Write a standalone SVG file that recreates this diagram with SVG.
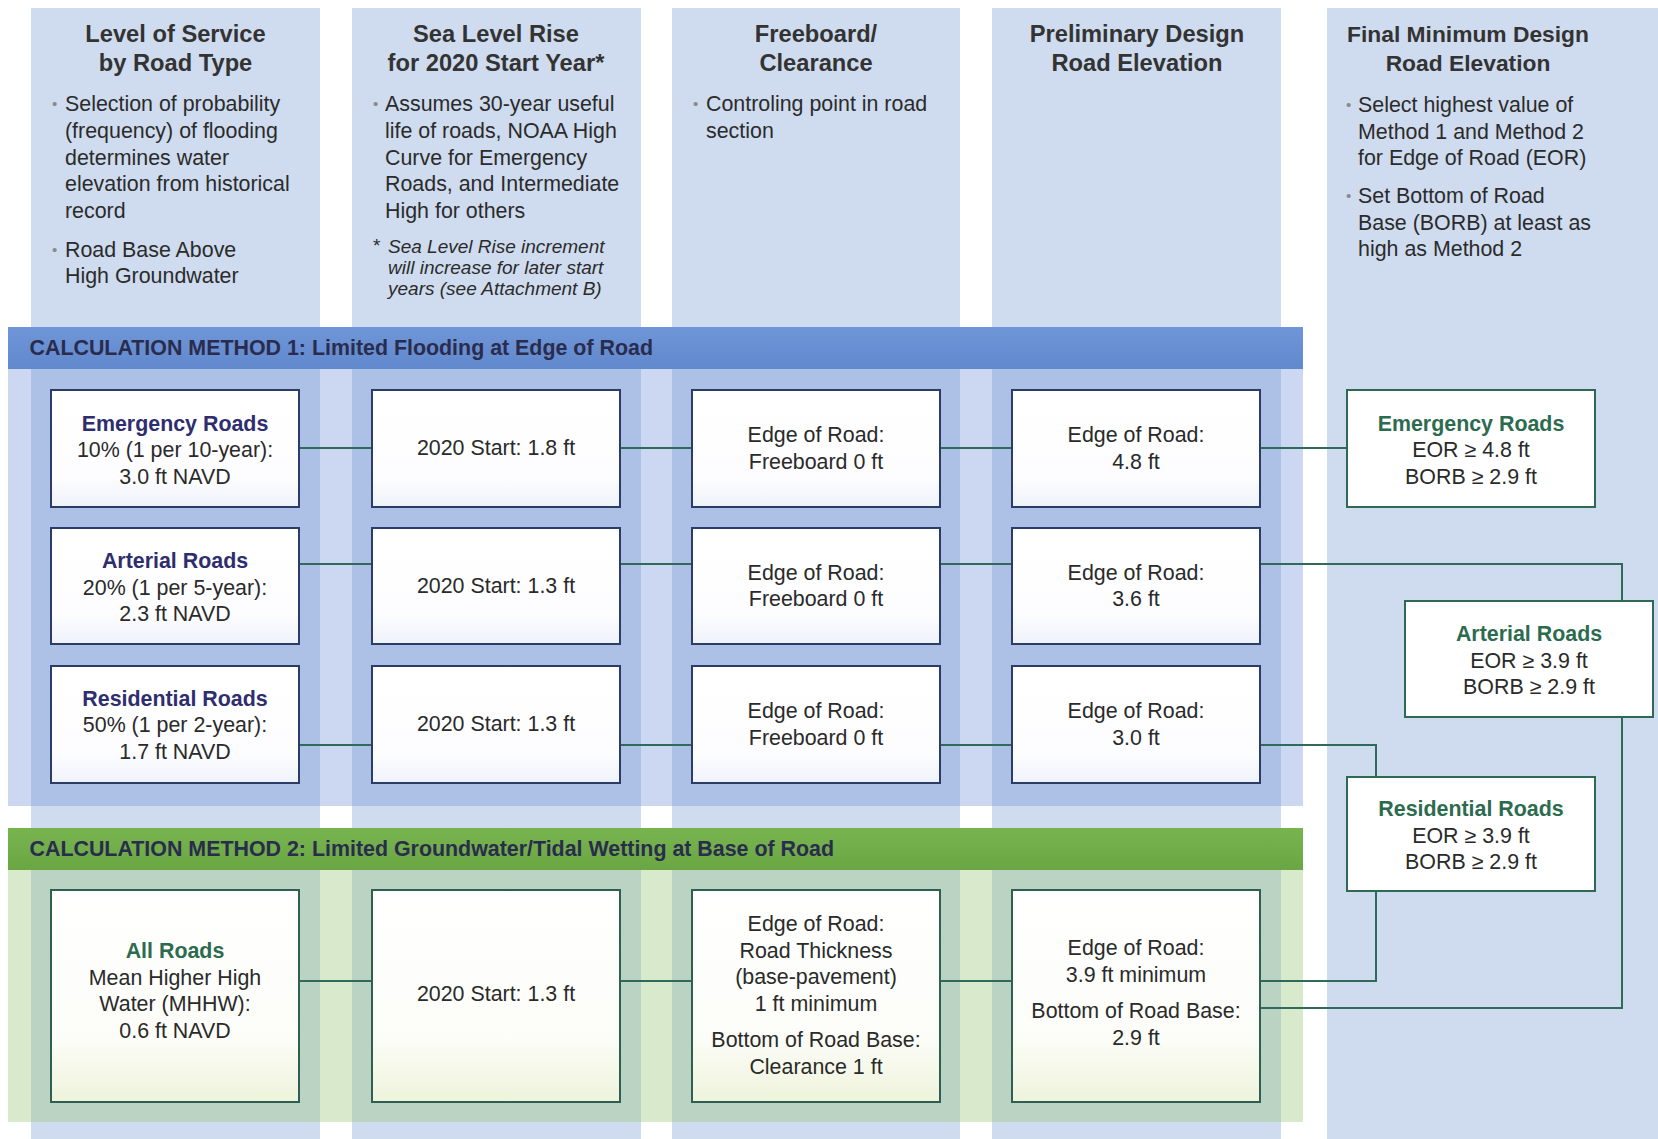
<svg xmlns="http://www.w3.org/2000/svg" width="1658" height="1139" viewBox="0 0 1658 1139">
<defs>
<linearGradient id="gBox1" x1="0" y1="0" x2="0" y2="1">
<stop offset="0" stop-color="#ffffff"/><stop offset="0.75" stop-color="#fdfdff"/><stop offset="1" stop-color="#eef2fa"/>
</linearGradient>
<linearGradient id="gBox2" x1="0" y1="0" x2="0" y2="1">
<stop offset="0" stop-color="#ffffff"/><stop offset="0.7" stop-color="#fcfdf8"/><stop offset="1" stop-color="#eef3da"/>
</linearGradient>
<linearGradient id="gBand1" x1="0" y1="0" x2="0" y2="1">
<stop offset="0" stop-color="#6f96d8"/><stop offset="1" stop-color="#6088cc"/>
</linearGradient>
<linearGradient id="gBand2" x1="0" y1="0" x2="0" y2="1">
<stop offset="0" stop-color="#78b44e"/><stop offset="1" stop-color="#6aa744"/>
</linearGradient>
</defs>
<style>
.col{fill:#cfdcef}
.ov1{fill:#6c8fd6;fill-opacity:.35}
.ov2{fill:#9cc47a;fill-opacity:.38}
.b1{fill:url(#gBox1);stroke:#2b3c68;stroke-width:2}
.b2{fill:url(#gBox2);stroke:#2f5e52;stroke-width:2}
.bf{fill:#ffffff;stroke:#2e6a52;stroke-width:2}
.con{fill:none;stroke:#2f6a5a;stroke-width:2}
text{font-family:"Liberation Sans",Arial,sans-serif}
.hd{font-size:23.7px;font-weight:bold;fill:#333333;text-anchor:middle}
.bl{font-size:21.4px;fill:#2b2b2b}
.dot{fill:#8a8a8a;font-size:15px}
.note{font-size:19px;font-style:italic;fill:#2b2b2b}
.band{font-size:21.4px;font-weight:bold;fill:#2a2c4e}
.t{font-size:21.4px;fill:#2a2a2a;text-anchor:middle}
.tn{font-size:21.4px;font-weight:bold;fill:#2e2d6e;text-anchor:middle}
.tg{font-size:21.4px;font-weight:bold;fill:#2d6b4f;text-anchor:middle}
</style>
<rect width="1658" height="1139" fill="#ffffff"/>
<g id="columns">
<rect class="col" x="31" y="8" width="289" height="1131"/>
<rect class="col" x="352" y="8" width="289" height="1131"/>
<rect class="col" x="672" y="8" width="288" height="1131"/>
<rect class="col" x="992" y="8" width="289" height="1131"/>
<rect class="col" x="1327" y="8" width="331" height="1131"/>
</g>
<g id="regions">
<rect class="ov1" x="8" y="369" width="1295" height="437"/>
<rect class="ov2" x="8" y="870" width="1295" height="252"/>
</g>
<g id="headers">
<text class="hd" x="175.5" y="42">Level of Service</text>
<text class="hd" x="175.5" y="71">by Road Type</text>
<text class="hd" x="496" y="42">Sea Level Rise</text>
<text class="hd" x="496" y="71">for 2020 Start Year*</text>
<text class="hd" x="816" y="42">Freeboard/</text>
<text class="hd" x="816" y="71">Clearance</text>
<text class="hd" x="1137" y="42">Preliminary Design</text>
<text class="hd" x="1137" y="71">Road Elevation</text>
<text class="hd" x="1468" y="42" style="font-size:22.8px">Final Minimum Design</text>
<text class="hd" x="1468" y="71" style="font-size:22.8px">Road Elevation</text>
</g>
<g id="descriptions">
<text class="dot" x="52" y="109">•</text>
<text class="bl" x="65" y="111">Selection of probability</text>
<text class="bl" x="65" y="138">(frequency) of flooding</text>
<text class="bl" x="65" y="164.5">determines water</text>
<text class="bl" x="65" y="191">elevation from historical</text>
<text class="bl" x="65" y="218">record</text>
<text class="dot" x="52" y="255">•</text>
<text class="bl" x="65" y="257">Road Base Above</text>
<text class="bl" x="65" y="283">High Groundwater</text>
<text class="dot" x="373" y="109">•</text>
<text class="bl" x="385" y="111">Assumes 30-year useful</text>
<text class="bl" x="385" y="138">life of roads, NOAA High</text>
<text class="bl" x="385" y="164.5">Curve for Emergency</text>
<text class="bl" x="385" y="191">Roads, and Intermediate</text>
<text class="bl" x="385" y="218">High for others</text>
<text class="note" x="373" y="252" style="font-style:normal">*</text>
<text class="note" x="388" y="253">Sea Level Rise increment</text>
<text class="note" x="388" y="274">will increase for later start</text>
<text class="note" x="388" y="295">years (see Attachment B)</text>
<text class="dot" x="693" y="109">•</text>
<text class="bl" x="706" y="111">Controling point in road</text>
<text class="bl" x="706" y="138">section</text>
<text class="dot" x="1346" y="110">•</text>
<text class="bl" x="1358" y="112">Select highest value of</text>
<text class="bl" x="1358" y="138.5">Method 1 and Method 2</text>
<text class="bl" x="1358" y="165">for Edge of Road (EOR)</text>
<text class="dot" x="1346" y="201">•</text>
<text class="bl" x="1358" y="203">Set Bottom of Road</text>
<text class="bl" x="1358" y="229.5">Base (BORB) at least as</text>
<text class="bl" x="1358" y="256">high as Method 2</text>
</g>
<g id="band1">
<rect x="8" y="327" width="1295" height="42" fill="url(#gBand1)"/>
<text class="band" x="29.5" y="355">CALCULATION METHOD 1: Limited Flooding at Edge of Road</text>
</g>
<g id="band2">
<rect x="8" y="828" width="1295" height="42" fill="url(#gBand2)"/>
<text class="band" x="29.5" y="856">CALCULATION METHOD 2: Limited Groundwater/Tidal Wetting at Base of Road</text>
</g>
<g id="connectors">
<path class="con" d="M299 448H372M620 448H692M940 448H1012M1260 448H1347"/>
<path class="con" d="M299 564H372M620 564H692M940 564H1012M1260 564H1622V601"/>
<path class="con" d="M299 745H372M620 745H692M940 745H1012M1260 745H1376V777"/>
<path class="con" d="M299 981H372M620 981H692M940 981H1012M1260 981H1376V891"/>
<path class="con" d="M1260 1008H1622V717"/>
</g>
<g id="n-emergency-los">
<rect class="b1" x="51" y="390" width="248" height="117"/>
<text class="tn" x="175" y="430.5">Emergency Roads</text>
<text class="t" x="175" y="457">10% (1 per 10-year):</text>
<text class="t" x="175" y="483.5">3.0 ft NAVD</text>
</g>
<g id="n-arterial-los">
<rect class="b1" x="51" y="528" width="248" height="116"/>
<text class="tn" x="175" y="568">Arterial Roads</text>
<text class="t" x="175" y="594.5">20% (1 per 5-year):</text>
<text class="t" x="175" y="621">2.3 ft NAVD</text>
</g>
<g id="n-residential-los">
<rect class="b1" x="51" y="666" width="248" height="117"/>
<text class="tn" x="175" y="705.5">Residential Roads</text>
<text class="t" x="175" y="732">50% (1 per 2-year):</text>
<text class="t" x="175" y="758.5">1.7 ft NAVD</text>
</g>
<g id="n-slr-1">
<rect class="b1" x="372" y="390" width="248" height="117"/>
<text class="t" x="496" y="455">2020 Start: 1.8 ft</text>
</g>
<g id="n-slr-2">
<rect class="b1" x="372" y="528" width="248" height="116"/>
<text class="t" x="496" y="593">2020 Start: 1.3 ft</text>
</g>
<g id="n-slr-3">
<rect class="b1" x="372" y="666" width="248" height="117"/>
<text class="t" x="496" y="731">2020 Start: 1.3 ft</text>
</g>
<g id="n-fb-1">
<rect class="b1" x="692" y="390" width="248" height="117"/>
<text class="t" x="816" y="442">Edge of Road:</text>
<text class="t" x="816" y="468.5">Freeboard 0 ft</text>
</g>
<g id="n-fb-2">
<rect class="b1" x="692" y="528" width="248" height="116"/>
<text class="t" x="816" y="579.5">Edge of Road:</text>
<text class="t" x="816" y="606">Freeboard 0 ft</text>
</g>
<g id="n-fb-3">
<rect class="b1" x="692" y="666" width="248" height="117"/>
<text class="t" x="816" y="718">Edge of Road:</text>
<text class="t" x="816" y="744.5">Freeboard 0 ft</text>
</g>
<g id="n-pre-1">
<rect class="b1" x="1012" y="390" width="248" height="117"/>
<text class="t" x="1136" y="442">Edge of Road:</text>
<text class="t" x="1136" y="468.5">4.8 ft</text>
</g>
<g id="n-pre-2">
<rect class="b1" x="1012" y="528" width="248" height="116"/>
<text class="t" x="1136" y="579.5">Edge of Road:</text>
<text class="t" x="1136" y="606">3.6 ft</text>
</g>
<g id="n-pre-3">
<rect class="b1" x="1012" y="666" width="248" height="117"/>
<text class="t" x="1136" y="718">Edge of Road:</text>
<text class="t" x="1136" y="744.5">3.0 ft</text>
</g>
<g id="n-all-los">
<rect class="b2" x="51" y="890" width="248" height="212"/>
<text class="tg" x="175" y="958">All Roads</text>
<text class="t" x="175" y="984.7">Mean Higher High</text>
<text class="t" x="175" y="1011.4">Water (MHHW):</text>
<text class="t" x="175" y="1038">0.6 ft NAVD</text>
</g>
<g id="n-all-slr">
<rect class="b2" x="372" y="890" width="248" height="212"/>
<text class="t" x="496" y="1001">2020 Start: 1.3 ft</text>
</g>
<g id="n-all-fb">
<rect class="b2" x="692" y="890" width="248" height="212"/>
<text class="t" x="816" y="931">Edge of Road:</text>
<text class="t" x="816" y="957.5">Road Thickness</text>
<text class="t" x="816" y="984">(base-pavement)</text>
<text class="t" x="816" y="1010.5">1 ft minimum</text>
<text class="t" x="816" y="1047">Bottom of Road Base:</text>
<text class="t" x="816" y="1073.5">Clearance 1 ft</text>
</g>
<g id="n-all-pre">
<rect class="b2" x="1012" y="890" width="248" height="212"/>
<text class="t" x="1136" y="955">Edge of Road:</text>
<text class="t" x="1136" y="981.5">3.9 ft minimum</text>
<text class="t" x="1136" y="1018">Bottom of Road Base:</text>
<text class="t" x="1136" y="1044.5">2.9 ft</text>
</g>
<g id="n-final-emergency">
<rect class="bf" x="1347" y="390" width="248" height="117"/>
<text class="tg" x="1471" y="430.5">Emergency Roads</text>
<text class="t" x="1471" y="457">EOR ≥ 4.8 ft</text>
<text class="t" x="1471" y="483.5">BORB ≥ 2.9 ft</text>
</g>
<g id="n-final-arterial">
<rect class="bf" x="1405" y="601" width="248" height="116"/>
<text class="tg" x="1529" y="641">Arterial Roads</text>
<text class="t" x="1529" y="667.5">EOR ≥ 3.9 ft</text>
<text class="t" x="1529" y="694">BORB ≥ 2.9 ft</text>
</g>
<g id="n-final-residential">
<rect class="bf" x="1347" y="777" width="248" height="114"/>
<text class="tg" x="1471" y="816">Residential Roads</text>
<text class="t" x="1471" y="842.5">EOR ≥ 3.9 ft</text>
<text class="t" x="1471" y="869">BORB ≥ 2.9 ft</text>
</g>
</svg>
